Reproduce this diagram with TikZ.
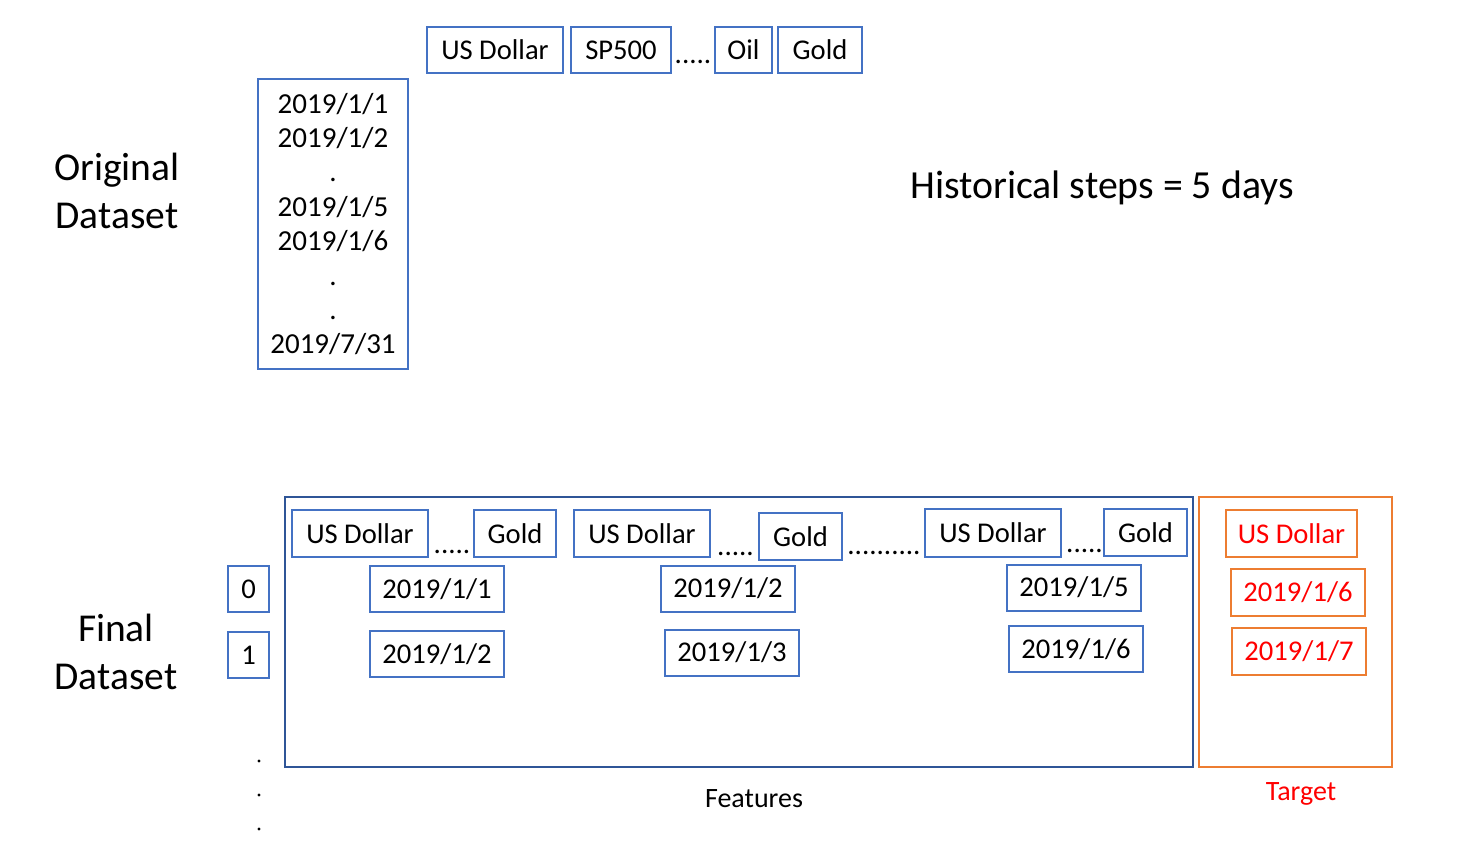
\documentclass[tikz,border=0pt]{standalone}
\usepackage{fontspec}
\setmainfont{Carlito}
\usepackage{tikz}
\usetikzlibrary{positioning}
\definecolor{cellblue}{HTML}{4472C4}
\definecolor{frameblue}{HTML}{2F5597}
\definecolor{tgtorange}{HTML}{ED7D31}
\definecolor{tgtred}{HTML}{FF0000}
\tikzset{
  cellbox/.style={draw=cellblue, line width=2pt, inner sep=0pt, minimum height=46pt, font=\fontsize{28.6}{34}\selectfont, align=center},
  tgtbox/.style={draw=tgtorange, line width=2pt, inner sep=0pt, minimum height=46pt, text=tgtred, font=\fontsize{28.6}{34}\selectfont},
  framebox/.style={draw=frameblue, line width=2.2pt, inner sep=0pt, minimum height=270pt},
  tgtframe/.style={draw=tgtorange, line width=2pt, inner sep=0pt, minimum height=270pt},
  gapdots/.style={anchor=base, inner sep=0pt, font=\fontsize{29}{34}\selectfont},
  biglabel/.style={align=center, font=\fontsize{39.5}{48}\selectfont},
  footlabel/.style={font=\fontsize{28}{30}\selectfont}
}
\begin{document}
\begin{tikzpicture}[x=1pt, y=-1pt]
  \useasboundingbox (0,0) rectangle (1483,855);
  % original dataset
  \node[cellbox, minimum width=136pt] (usd) at (495,50) {US Dollar};
  \node[cellbox, minimum width=100pt] (sp) at (621,50) {SP500};
  \node[gapdots] (topdots) at (693,63) {.....};
  \node[cellbox, minimum width=57pt] (oil) at (743.5,50) {Oil};
  \node[cellbox, minimum width=84pt] (gold) at (820,50) {Gold};
  \node[cellbox, minimum width=150pt, minimum height=290pt, font=\fontsize{29}{34.4}\selectfont] (dates) at (333,224)
    {2019/1/1\\2019/1/2\\.\\2019/1/5\\2019/1/6\\.\\.\\2019/7/31};
  \node[biglabel] (orig) at (117,191) {Original\\Dataset};
  \node[font=\fontsize{39.8}{44}\selectfont] (steps) at (1102,188) {Historical steps = 5 days};

  % final dataset
  \node[framebox, minimum width=908pt] (feat) at (739,632) {};
  \node[tgtframe, minimum width=193pt] (tgt) at (1295.5,632) {};
  \node[biglabel] (final) at (116,652) {Final\\Dataset};
  \node[cellbox, minimum width=41pt] (idx0) at (248.5,589) {0};
  \node[cellbox, minimum width=41pt] (idx1) at (248.5,655) {1};
  \foreach \y in {761,795,829}
    \fill (259,\y) circle (1.6pt);

  \node[cellbox, minimum width=136pt, minimum height=47pt] (usdA) at (360,533.5) {US Dollar};
  \node[gapdots] (dotsA) at (452,553) {.....};
  \node[cellbox, minimum width=82pt, minimum height=47pt] (goldA) at (515,533.5) {Gold};
  \node[cellbox, minimum width=134pt] (dA1) at (437,589) {2019/1/1};
  \node[cellbox, minimum width=134pt] (dA2) at (437,654) {2019/1/2};

  \node[cellbox, minimum width=136pt, minimum height=47pt] (usdB) at (642,533.5) {US Dollar};
  \node[gapdots] (dotsB) at (735.5,555) {.....};
  \node[cellbox, minimum width=83pt, minimum height=47pt] (goldB) at (800.5,536.5) {Gold};
  \node[cellbox, minimum width=134pt] (dB1) at (728,588.5) {2019/1/2};
  \node[cellbox, minimum width=134pt] (dB2) at (732,652.5) {2019/1/3};

  \node[gapdots] (dotsMid) at (884,554) {..........};

  \node[cellbox, minimum width=136pt, minimum height=48pt] (usdC) at (993,533) {US Dollar};
  \node[gapdots] (dotsC) at (1084.5,552) {.....};
  \node[cellbox, minimum width=83pt, minimum height=47pt] (goldC) at (1145.5,532.5) {Gold};
  \node[cellbox, minimum width=134pt] (dC1) at (1074,587.5) {2019/1/5};
  \node[cellbox, minimum width=134pt] (dC2) at (1076,649) {2019/1/6};

  % target
  \node[tgtbox, minimum width=131pt, minimum height=47pt] (tusd) at (1291.5,533.5) {US Dollar};
  \node[tgtbox, minimum width=134pt, minimum height=47pt] (t1) at (1298,592.5) {2019/1/6};
  \node[tgtbox, minimum width=134pt, minimum height=47pt] (t2) at (1299,651.5) {2019/1/7};

  \node[footlabel] (featlbl) at (754,799) {Features};
  \node[footlabel, text=tgtred] (tgtlbl) at (1301,794) {Target};
\end{tikzpicture}
\end{document}
